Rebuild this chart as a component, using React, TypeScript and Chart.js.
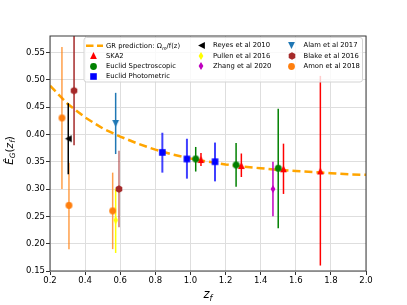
import React, { useEffect, useRef } from "react";
import { Chart, registerables } from "chart.js";
Chart.register(...registerables);

// ---------- data ----------
const xTickVals = [0.2, 0.4, 0.6, 0.8, 1.0, 1.2, 1.4, 1.6, 1.8, 2.0];
const yTickVals = [0.15, 0.2, 0.25, 0.3, 0.35, 0.4, 0.45, 0.5, 0.55];

const grZ = [0.2, 0.3, 0.4, 0.5, 0.6, 0.7, 0.8, 0.9, 1.0, 1.1, 1.2, 1.3, 1.4, 1.5, 1.6, 1.7, 1.8, 1.9, 2.0];
const grEG = [0.489, 0.456, 0.431, 0.411, 0.396, 0.383, 0.372, 0.363, 0.356, 0.350, 0.345, 0.341, 0.338, 0.335, 0.333, 0.331, 0.329, 0.327, 0.326];

const skaZ = [1.06, 1.29, 1.53, 1.74];
const skaEG = [0.354, 0.343, 0.337, 0.333];
const skaLo = [0.342, 0.322, 0.291, 0.160];
const skaHi = [0.366, 0.365, 0.383, 0.507];

const specZ = [1.03, 1.26, 1.50];
const specEG = [0.355, 0.344, 0.338];
const specLo = [0.332, 0.304, 0.228];
const specHi = [0.377, 0.384, 0.447];

const photZ = [0.84, 0.98, 1.14];
const photEG = [0.367, 0.355, 0.350];
const photLo = [0.330, 0.319, 0.314];
const photHi = [0.403, 0.392, 0.385];

const reyesZ = [0.304];
const reyesEG = [0.392];
const reyesLo = [0.327];
const reyesHi = [0.457];

const pullenZ = [0.574];
const pullenEG = [0.243];
const pullenLo = [0.183];
const pullenHi = [0.301];

const zhangZ = [1.47];
const zhangEG = [0.300];
const zhangLo = [0.250];
const zhangHi = [0.350];

const alamZ = [0.574];
const alamEG = [0.420];
const alamLo = [0.364];
const alamHi = [0.476];

const blakeZ = [0.337, 0.593];
const blakeEG = [0.480, 0.300];
const blakeLo = [0.380, 0.230];
const blakeHi = [0.580, 0.370];

const amonZ = [0.268, 0.308, 0.557];
const amonEG = [0.430, 0.270, 0.260];
const amonLo = [0.300, 0.190, 0.190];
const amonHi = [0.560, 0.348, 0.330];

// ---------- helpers ----------
const FONT = '"DejaVu Sans", sans-serif';

function makeMarker(shape: string, color: string, r: number): HTMLCanvasElement {
  const size = Math.ceil(2 * r + 2);
  const c = document.createElement("canvas");
  c.width = size;
  c.height = size;
  const g = c.getContext("2d")!;
  const m = size / 2;
  g.fillStyle = color;
  g.beginPath();
  if (shape === "circle") {
    g.arc(m, m, r, 0, Math.PI * 2);
  } else if (shape === "square") {
    g.rect(m - r, m - r, 2 * r, 2 * r);
  } else if (shape === "up") {
    g.moveTo(m, m - r); g.lineTo(m + r, m + r); g.lineTo(m - r, m + r);
  } else if (shape === "down") {
    g.moveTo(m, m + r); g.lineTo(m + r, m - r); g.lineTo(m - r, m - r);
  } else if (shape === "left") {
    g.moveTo(m - r, m); g.lineTo(m + r, m - r); g.lineTo(m + r, m + r);
  } else if (shape === "hex") {
    for (let k = 0; k < 6; k++) {
      const a = Math.PI / 2 + (k * Math.PI) / 3;
      const px = m + r * Math.cos(a);
      const py = m - r * Math.sin(a);
      if (k === 0) g.moveTo(px, py); else g.lineTo(px, py);
    }
  } else if (shape === "tdiamond") {
    g.moveTo(m, m - r); g.lineTo(m + 0.6 * r, m); g.lineTo(m, m + r); g.lineTo(m - 0.6 * r, m);
  }
  g.closePath();
  g.fill();
  return c;
}

type Part = { t: string; it?: boolean; sub?: boolean };
function drawRich(ctx: CanvasRenderingContext2D, parts: Part[], x: number, y: number, size: number, align: "left" | "center") {
  const fontOf = (p: Part) => `${p.it ? "italic " : ""}${p.sub ? size * 0.7 : size}px ${FONT}`;
  let w = 0;
  for (const p of parts) { ctx.font = fontOf(p); w += ctx.measureText(p.t).width; }
  let cx = align === "center" ? x - w / 2 : x;
  ctx.textAlign = "left";
  ctx.textBaseline = "alphabetic";
  for (const p of parts) {
    ctx.font = fontOf(p);
    ctx.fillText(p.t, cx, p.sub ? y + size * 0.22 : y);
    cx += ctx.measureText(p.t).width;
  }
}

const pts = (xs: number[], ys: number[]) => xs.map((x, i) => ({ x, y: ys[i] }));

export default function App() {
  const ref = useRef<HTMLCanvasElement>(null);

  useEffect(() => {
    const mk = {
      ska: makeMarker("up", "#ff0000", 3.4),
      spec: makeMarker("circle", "#008000", 3.4),
      phot: makeMarker("square", "#0000ff", 3.3),
      reyes: makeMarker("left", "#000000", 3.4),
      pullen: makeMarker("tdiamond", "#ffff00", 4.0),
      zhang: makeMarker("tdiamond", "#bf00bf", 4.0),
      alam: makeMarker("down", "#1f77b4", 3.4),
      blake: makeMarker("hex", "#a52a2a", 3.8),
      amon: makeMarker("circle", "#ff7f0e", 3.4),
    };

    const errSets = [
      { z: amonZ, lo: amonLo, hi: amonHi, color: "rgba(255,127,14,0.75)", w: 1.5 },
      { z: reyesZ, lo: reyesLo, hi: reyesHi, color: "#000000", w: 1.5 },
      { z: blakeZ.slice(0, 1), lo: blakeLo.slice(0, 1), hi: blakeHi.slice(0, 1), color: "#a52a2a", w: 1.5 },
      { z: blakeZ.slice(1), lo: blakeLo.slice(1), hi: blakeHi.slice(1), color: "rgba(165,42,42,0.65)", w: 1.5 },
      { z: alamZ, lo: alamLo, hi: alamHi, color: "#1f77b4", w: 1.5 },
      { z: pullenZ, lo: pullenLo, hi: pullenHi, color: "#ffff00", w: 1.5 },
      { z: photZ, lo: photLo, hi: photHi, color: "rgba(0,0,255,0.75)", w: 2 },
      { z: specZ, lo: specLo, hi: specHi, color: "#008000", w: 1.5 },
      { z: skaZ, lo: skaLo, hi: skaHi, color: "#ff0000", w: 1.5 },
      { z: zhangZ, lo: zhangLo, hi: zhangHi, color: "#bf00bf", w: 1.5 },
    ];

    const errorBarPlugin = {
      id: "errbars",
      afterDatasetDraw(chart: any, args: any) {
        if (args.index !== 0) return;
        const { ctx, chartArea: a, scales } = chart;
        ctx.save();
        ctx.beginPath();
        ctx.rect(a.left, a.top, a.right - a.left, a.bottom - a.top);
        ctx.clip();
        for (const s of errSets) {
          ctx.strokeStyle = s.color;
          ctx.lineWidth = s.w;
          for (let i = 0; i < s.z.length; i++) {
            const px = scales.x.getPixelForValue(s.z[i]);
            ctx.beginPath();
            ctx.moveTo(px, scales.y.getPixelForValue(s.lo[i]));
            ctx.lineTo(px, scales.y.getPixelForValue(s.hi[i]));
            ctx.stroke();
          }
        }
        ctx.restore();
      },
    };

    const decorPlugin = {
      id: "decor",
      afterDraw(chart: any) {
        const { ctx, chartArea: a } = chart;
        ctx.save();
        // frame
        ctx.strokeStyle = "#3a3a3a";
        ctx.lineWidth = 1;
        ctx.strokeRect(a.left, a.top, a.right - a.left, a.bottom - a.top);

        // axis titles
        ctx.fillStyle = "#000";
        drawRich(ctx, [{ t: "z", it: true }, { t: "f", it: true, sub: true }], (a.left + a.right) / 2, 298, 11.5, "center");
        ctx.save();
        ctx.translate(13, (a.top + a.bottom) / 2 - 3);
        ctx.rotate(-Math.PI / 2);
        drawRich(ctx, [
          { t: "Ê", it: true }, { t: "G", it: true, sub: true }, { t: "(" },
          { t: "z", it: true }, { t: "f", it: true, sub: true }, { t: ")" },
        ], 0, 0, 10.5, "center");
        ctx.restore();

        // legend
        const bx = 84, by = 37.5, bw = 278.5, bh = 44.5;
        ctx.beginPath();
        (ctx as any).roundRect(bx, by, bw, bh, 2.5);
        ctx.fillStyle = "rgba(255,255,255,0.8)";
        ctx.fill();
        ctx.strokeStyle = "#d4d4d4";
        ctx.lineWidth = 1;
        ctx.stroke();

        const rows = [45.7, 55.8, 66, 76.2];
        const fs = 6.8;
        const text = (s: string, x: number, y: number) => {
          ctx.font = `${fs}px ${FONT}`;
          ctx.fillStyle = "#000";
          ctx.textAlign = "left";
          ctx.textBaseline = "middle";
          ctx.fillText(s, x, y);
        };
        const img = (m: HTMLCanvasElement, x: number, y: number) =>
          ctx.drawImage(m, Math.round(x - m.width / 2), Math.round(y - m.height / 2));

        // GR line sample
        ctx.strokeStyle = "#ffa500";
        ctx.lineWidth = 2.5;
        ctx.setLineDash([7.5, 3.5]);
        ctx.beginPath();
        ctx.moveTo(86, rows[0]);
        ctx.lineTo(103, rows[0]);
        ctx.stroke();
        ctx.setLineDash([]);
        ctx.fillStyle = "#000";
        drawRich(ctx, [{ t: "GR prediction: Ω" }, { t: "m", it: true, sub: true }, { t: "/f(z)" }], 106, rows[0] + 2.4, fs, "left");

        img(mk.ska, 93, rows[1]); text("SKA2", 106, rows[1]);
        img(mk.spec, 93, rows[2]); text("Euclid Spectroscopic", 106, rows[2]);
        img(mk.phot, 93, rows[3]); text("Euclid Photometric", 106, rows[3]);

        img(mk.reyes, 201, rows[0]); text("Reyes et al 2010", 213, rows[0]);
        img(mk.pullen, 201, rows[1]); text("Pullen et al 2016", 213, rows[1]);
        img(mk.zhang, 201, rows[2]); text("Zhang et al 2020", 213, rows[2]);

        img(mk.alam, 291.5, rows[0]); text("Alam et al 2017", 303.5, rows[0]);
        img(mk.blake, 291.5, rows[1]); text("Blake et al 2016", 303.5, rows[1]);
        img(mk.amon, 291.5, rows[2]); text("Amon et al 2018", 303.5, rows[2]);
        ctx.restore();
      },
    };

    const sc = (label: string, xs: number[], ys: number[], m: HTMLCanvasElement) => ({
      type: "scatter" as const,
      label,
      data: pts(xs, ys),
      pointStyle: m,
      showLine: false,
      order: 0,
    });

    const chart = new Chart(ref.current!, {
      type: "scatter",
      data: {
        datasets: [
          {
            type: "line",
            label: "GR prediction",
            data: pts(grZ, grEG),
            borderColor: "#ffa500",
            borderWidth: 2.5,
            borderDash: [8, 4],
            pointRadius: 0,
            fill: false,
            order: 10,
          } as any,
          sc("Amon et al 2018", amonZ, amonEG, mk.amon),
          sc("Reyes et al 2010", reyesZ, reyesEG, mk.reyes),
          sc("Blake et al 2016", blakeZ, blakeEG, mk.blake),
          sc("Alam et al 2017", alamZ, alamEG, mk.alam),
          sc("Pullen et al 2016", pullenZ, pullenEG, mk.pullen),
          sc("Euclid Photometric", photZ, photEG, mk.phot),
          sc("Euclid Spectroscopic", specZ, specEG, mk.spec),
          sc("SKA2", skaZ, skaEG, mk.ska),
          sc("Zhang et al 2020", zhangZ, zhangEG, mk.zhang),
        ],
      },
      options: {
        responsive: false,
        animation: false,
        events: [],
        devicePixelRatio: 1,
        layout: { padding: { top: 36, right: 41, left: 0, bottom: 0 } },
        plugins: { legend: { display: false }, tooltip: { enabled: false } },
        scales: {
          x: {
            type: "linear",
            min: 0.2,
            max: 2.0,
            afterBuildTicks: (s: any) => { s.ticks = xTickVals.map((v) => ({ value: v })); },
            afterFit: (s: any) => { s.height = 34; },
            ticks: {
              callback: (v: any) => Number(v).toFixed(1),
              font: { family: FONT, size: 8.5 },
              color: "#000",
              padding: 1,
              maxRotation: 0,
              autoSkip: false,
            },
            grid: { color: "#dedede", lineWidth: 1, tickLength: 4, tickColor: "#333" },
            border: { display: false },
          },
          y: {
            type: "linear",
            min: 0.15,
            max: 0.58,
            afterBuildTicks: (s: any) => { s.ticks = yTickVals.map((v) => ({ value: v })); },
            afterFit: (s: any) => { s.width = 50; },
            ticks: {
              callback: (v: any) => Number(v).toFixed(2),
              font: { family: FONT, size: 8.5 },
              color: "#000",
              padding: 1,
              autoSkip: false,
            },
            grid: { color: "#dedede", lineWidth: 1, tickLength: 4, tickColor: "#333" },
            border: { display: false },
          },
        },
      },
      plugins: [errorBarPlugin, decorPlugin],
    });
    return () => chart.destroy();
  }, []);

  return (
    <div style={{ position: "absolute", left: 0, top: 0, width: 407, height: 305, background: "#fff" }}>
      <canvas ref={ref} width={407} height={305} style={{ display: "block" }} />
    </div>
  );
}
